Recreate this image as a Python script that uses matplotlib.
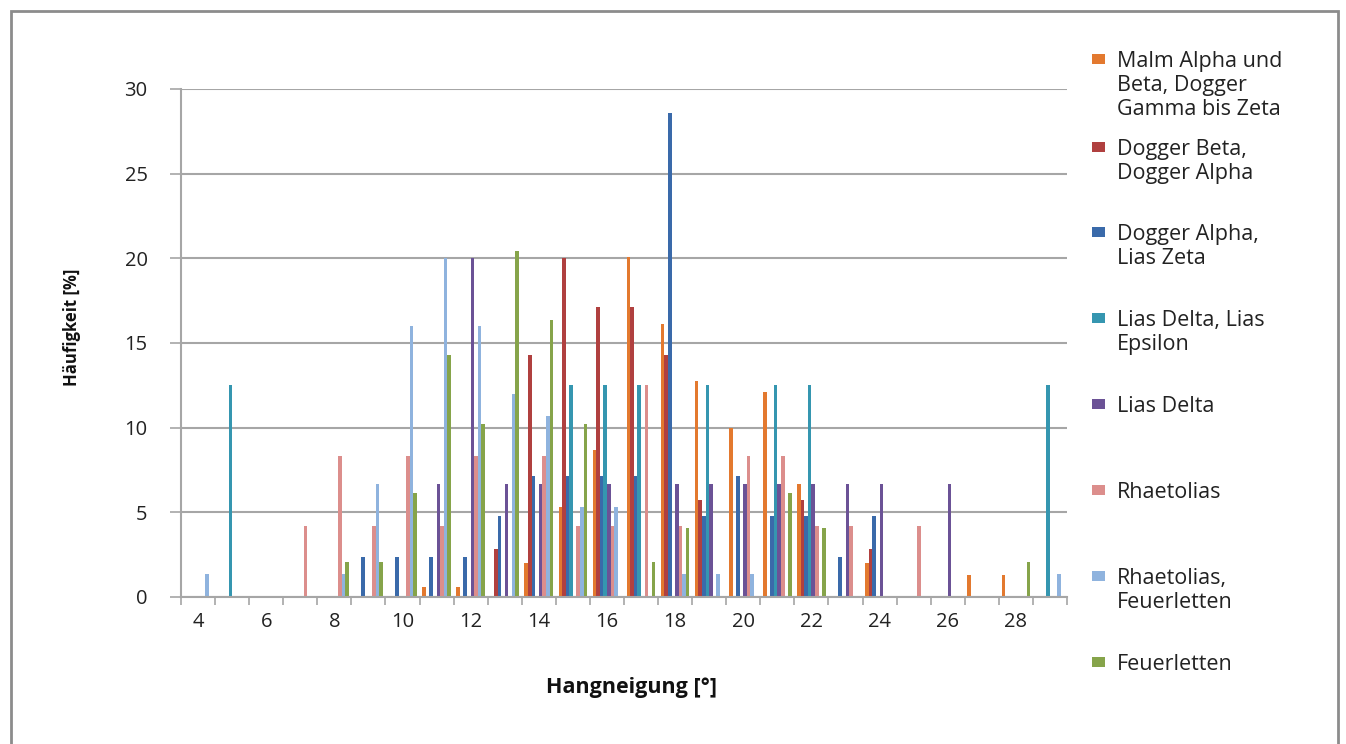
import numpy as np
import matplotlib.pyplot as plt
from matplotlib.patches import Rectangle

plt.rcParams['font.family'] = ['Open Sans', 'DejaVu Sans']

# Hangneigung classes (degrees)
slopes = list(range(4, 30))

series_names = [
    "Malm Alpha und\nBeta, Dogger\nGamma bis Zeta",
    "Dogger Beta,\nDogger Alpha",
    "Dogger Alpha,\nLias Zeta",
    "Lias Delta, Lias\nEpsilon",
    "Lias Delta",
    "Rhaetolias",
    "Rhaetolias,\nFeuerletten",
    "Feuerletten",
]
colors = ['#E3792F', '#B0403F', '#3A6AAA', '#3596B0',
          '#6B5296', '#DC8E8C', '#8FB3DE', '#86A44A']

# frequencies [%] per slope class 4..29
malm = [0, 0, 0, 0, 0, 0, 0, 0.6, 0.6, 0, 2.0, 5.33, 8.7, 20.1, 16.1, 12.77,
        10.0, 12.1, 6.67, 0, 2.0, 0, 0, 1.3, 1.3, 0]
dogger_beta = [0, 0, 0, 0, 0, 0, 0, 0, 0, 2.86, 14.29, 20.0, 17.14, 17.14, 14.29, 5.71,
               0, 0, 5.71, 0, 2.86, 0, 0, 0, 0, 0]
dogger_alpha = [0, 0, 0, 0, 0, 2.38, 2.38, 2.38, 2.38, 4.76, 7.14, 7.14, 7.14, 7.14, 28.57, 4.76,
                7.14, 4.76, 4.76, 2.38, 4.76, 0, 0, 0, 0, 0]
lias_de = [0, 12.5, 0, 0, 0, 0, 0, 0, 0, 0, 0, 12.5, 12.5, 12.5, 0, 12.5,
           0, 12.5, 12.5, 0, 0, 0, 0, 0, 0, 12.5]
lias_delta = [0, 0, 0, 0, 0, 0, 0, 6.67, 20.0, 6.67, 6.67, 0, 6.67, 0, 6.67, 6.67,
              6.67, 6.67, 6.67, 6.67, 6.67, 0, 6.67, 0, 0, 0]
rhaetolias = [0, 0, 0, 4.17, 8.33, 4.17, 8.33, 4.17, 8.33, 0, 8.33, 4.17, 4.17, 12.5, 4.17, 0,
              8.33, 8.33, 4.17, 4.17, 0, 4.17, 0, 0, 0, 0]
rhaeto_feuer = [1.33, 0, 0, 0, 1.33, 6.67, 16.0, 20.0, 16.0, 12.0, 10.67, 5.33, 5.33, 0, 1.33, 1.33,
                1.33, 0, 0, 0, 0, 0, 0, 0, 0, 1.33]
feuerletten = [0, 0, 0, 0, 2.04, 2.04, 6.12, 14.29, 10.2, 20.41, 16.33, 10.2, 0, 2.04, 4.08, 0,
               0, 6.12, 4.08, 0, 0, 0, 0, 0, 2.04, 0]

data = [malm, dogger_beta, dogger_alpha, lias_de, lias_delta, rhaetolias, rhaeto_feuer, feuerletten]

W, H = 1346, 744
fig = plt.figure(figsize=(W / 100, H / 100), dpi=100)

def fx(px):
    return px / W

def fy(py):
    return 1 - py / H

# outer chart border
fig.patches.append(Rectangle((fx(11), fy(760)), fx(1338) - fx(11), fy(11) - fy(760),
                             transform=fig.transFigure, fill=False,
                             edgecolor='#8C8C8C', linewidth=2))

ax = fig.add_axes([fx(181), fy(597), fx(1067) - fx(181), fy(89) - fy(597)])

n = len(data)
x = np.arange(len(slopes))
w = 1 / (n + 1.5)
for j, (vals, c) in enumerate(zip(data, colors)):
    ax.bar(x - 0.5 + 0.75 * w + (j + 0.5) * w, vals, width=w, color=c, linewidth=0)

ax.set_xlim(-0.5, len(slopes) - 0.5)
ax.set_ylim(0, 30)
ax.set_yticks(range(0, 31, 5))
ax.yaxis.grid(True, color='#A6A6A6', linewidth=1.5)
ax.set_axisbelow(True)

ax.set_xticks(x[::2])
ax.set_xticklabels([str(s) for s in slopes[::2]])
ax.set_xticks(np.arange(len(slopes) + 1) - 0.5, minor=True)
ax.tick_params(axis='x', which='major', length=0, pad=11, labelsize=14.5, labelcolor='#222222')
ax.tick_params(axis='x', which='minor', length=6, width=1.2, color='#A6A6A6', direction='out')
ax.tick_params(axis='y', length=8, width=1.2, color='#A6A6A6', pad=16, labelsize=14.5,
               labelcolor='#222222')

for s in ['top', 'right']:
    ax.spines[s].set_visible(False)
for s in ['left', 'bottom']:
    ax.spines[s].set_color('#A6A6A6')
    ax.spines[s].set_linewidth(1.5)

fig.text(fx(632), fy(688), "Hangneigung [°]", ha='center', va='center',
         fontsize=15.5, fontweight='bold', color='#111111')
fig.text(fx(72), fy(327), "Häufigkeit [%]", ha='center', va='center', rotation=90,
         fontsize=12, fontweight='bold', color='#111111')

# legend on the right
leg_y = [59, 147, 232, 318, 404, 490, 576, 662]
for name, c, py in zip(series_names, colors, leg_y):
    fig.patches.append(Rectangle((fx(1092), fy(py + 5)), fx(13), 10 / H,
                                 transform=fig.transFigure, color=c, linewidth=0))
    fig.text(fx(1117), fy(py - 8), name, ha='left', va='top', fontsize=15.5,
             linespacing=1.18, color='#222222')

fig.savefig('out.png', dpi=100)
